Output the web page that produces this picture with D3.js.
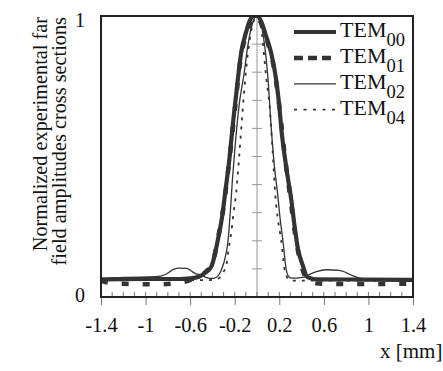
<!DOCTYPE html>
<html>
<head>
<meta charset="utf-8">
<script src="https://cdn.jsdelivr.net/npm/d3@7"></script>
<style>
  body { margin: 0; background: #fff; }
  svg text { font-family: "Liberation Serif", "Times New Roman", serif; fill: #111; }
</style>
</head>
<body>
<script>
// ********************** DATA **************************************************************
var tem00X = [-1.4, -1.0, -0.7, -0.6, -0.52, -0.47, -0.41, -0.353, -0.308, -0.29, -0.248, -0.21, -0.187, -0.142, -0.1, -0.068, -0.03, 0.0, 0.038, 0.08, 0.128, 0.173, 0.2, 0.218, 0.263, 0.308, 0.338, 0.368, 0.413, 0.443, 0.47, 0.533, 1.0, 1.4];
var tem00Y = [0.063, 0.064, 0.064, 0.066, 0.072, 0.085, 0.108, 0.2, 0.3, 0.357, 0.49, 0.64, 0.72, 0.87, 0.94, 0.98, 1.0, 1.0, 0.98, 0.93, 0.867, 0.77, 0.68, 0.6, 0.46, 0.345, 0.25, 0.17, 0.11, 0.075, 0.068, 0.063, 0.062, 0.061];

var tem01X = [-1.4, -1.35, -1.2, -0.9, -0.7, -0.6, -0.52, -0.46, -0.4, -0.35, -0.3, -0.25, -0.2, -0.15, -0.1, -0.05, 0.0, 0.04, 0.1, 0.15, 0.2, 0.25, 0.3, 0.34, 0.38, 0.42, 0.46, 0.55, 0.8, 1.1, 1.37];
var tem01Y = [0.058, 0.052, 0.047, 0.045, 0.05, 0.06, 0.072, 0.09, 0.12, 0.21, 0.32, 0.48, 0.66, 0.84, 0.93, 0.98, 1.0, 0.97, 0.9, 0.82, 0.68, 0.5, 0.35, 0.23, 0.14, 0.085, 0.06, 0.048, 0.046, 0.046, 0.048];

var tem02X = [-1.4, -1.2, -0.91, -0.82, -0.75, -0.7, -0.63, -0.56, -0.5, -0.445, -0.4, -0.38, -0.32, -0.28, -0.26, -0.24, -0.22, -0.2, -0.158, -0.118, -0.08, -0.05, -0.02, 0.0, 0.03, 0.06, 0.1, 0.128, 0.155, 0.187, 0.21, 0.232, 0.263, 0.29, 0.308, 0.41, 0.47, 0.533, 0.62, 0.74, 0.8, 0.863, 0.98, 1.4];
var tem02Y = [0.064, 0.07, 0.072, 0.08, 0.098, 0.103, 0.102, 0.085, 0.077, 0.068, 0.066, 0.067, 0.096, 0.15, 0.2, 0.3, 0.42, 0.52, 0.69, 0.79, 0.9, 0.96, 0.995, 1.0, 0.98, 0.92, 0.77, 0.6, 0.47, 0.36, 0.27, 0.203, 0.096, 0.07, 0.067, 0.07, 0.08, 0.09, 0.097, 0.095, 0.087, 0.075, 0.063, 0.063];

var tem04X = [-1.4, -0.6, -0.45, -0.38, -0.33, -0.3, -0.277, -0.255, -0.232, -0.21, -0.187, -0.16, -0.13, -0.1, -0.06, -0.02, 0.01, 0.04, 0.083, 0.113, 0.14, 0.165, 0.19, 0.218, 0.248, 0.27, 0.293, 0.308, 0.4, 1.4];
var tem04Y = [0.06, 0.06, 0.06, 0.062, 0.07, 0.09, 0.108, 0.17, 0.227, 0.3, 0.37, 0.5, 0.66, 0.8, 0.93, 0.99, 1.0, 0.95, 0.78, 0.68, 0.52, 0.36, 0.27, 0.2, 0.096, 0.07, 0.06, 0.058, 0.058, 0.058];

var seriesNames = ["00", "01", "02", "04"];
var xTickValues = [-1.4, -1, -0.6, -0.2, 0.2, 0.6, 1, 1.4];
var yTickLabels = ["0", "1"];

// ********************** LAYOUT **************************************************************
var width = 443;
var height = 371;
var plotLeft = 101, plotRight = 413, plotTop = 16, plotBottom = 297;

var svg = d3.select("body")
    .append("svg")
    .attr("width", width)
    .attr("height", height);

var x = d3.scaleLinear().domain([-1.4, 1.4]).range([plotLeft, plotRight]);
var y = d3.scaleLinear().domain([0, 1]).range([plotBottom, plotTop]);

// center vertical line (x = 0) with small y ticks
svg.append("line")
    .attr("x1", x(0)).attr("x2", x(0))
    .attr("y1", y(0)).attr("y2", y(1))
    .attr("stroke", "#999")
    .attr("stroke-width", 1);

svg.selectAll(".ytick")
    .data(d3.range(1, 10).map(function(d) { return d / 10; }))
    .enter().append("line")
    .attr("class", "ytick")
    .attr("x1", x(0) - 5).attr("x2", x(0) + 5)
    .attr("y1", function(d) { return y(d); })
    .attr("y2", function(d) { return y(d); })
    .attr("stroke", "#999")
    .attr("stroke-width", 1);

// minor x ticks, inside frame
svg.selectAll(".xminor")
    .data(d3.range(-13, 14).map(function(d) { return d / 10; }))
    .enter().append("line")
    .attr("class", "xminor")
    .attr("x1", function(d) { return x(d); })
    .attr("x2", function(d) { return x(d); })
    .attr("y1", plotBottom)
    .attr("y2", plotBottom - 5)
    .attr("stroke", "#777")
    .attr("stroke-width", 1);

// ********************** SERIES **************************************************************
svg.append("clipPath").attr("id", "plotclip")
    .append("rect")
    .attr("x", plotLeft).attr("y", plotTop)
    .attr("width", plotRight - plotLeft).attr("height", plotBottom - plotTop);

var line = d3.line()
    .x(function(d) { return x(d[0]); })
    .y(function(d) { return y(d[1]); })
    .curve(d3.curveMonotoneX);

function pairs(xs, ys) { return xs.map(function(v, i) { return [v, ys[i]]; }); }

var series = [
    { data: pairs(tem04X, tem04Y), width: 1.8, dash: "3,6" },
    { data: pairs(tem02X, tem02Y), width: 1.3, dash: null },
    { data: pairs(tem01X, tem01Y), width: 4.5, dash: "7,14" },
    { data: pairs(tem00X, tem00Y), width: 4.2, dash: null }
];

var plot = svg.append("g").attr("clip-path", "url(#plotclip)");
series.forEach(function(s) {
    plot.append("path")
        .attr("d", line(s.data))
        .attr("fill", "none")
        .attr("stroke", "#333")
        .attr("stroke-width", s.width)
        .attr("stroke-dasharray", s.dash)
        .attr("stroke-linejoin", "round");
});

// frame
svg.append("rect")
    .attr("x", plotLeft).attr("y", plotTop)
    .attr("width", plotRight - plotLeft).attr("height", plotBottom - plotTop)
    .attr("fill", "none")
    .attr("stroke", "#222")
    .attr("stroke-width", 2);

// ********************** AXES **************************************************************
var xAxis = d3.axisBottom(x)
    .tickValues(xTickValues)
    .tickSize(7)
    .tickPadding(10)
    .tickFormat(function(d) { return String(d); });

var gx = svg.append("g")
    .attr("transform", "translate(0," + (plotBottom + 1) + ")")
    .call(xAxis);
gx.select(".domain").remove();
gx.selectAll(".tick line").attr("stroke", "#777").attr("stroke-width", 1);
gx.selectAll(".tick text")
    .style("font-family", "Liberation Serif, serif")
    .style("font-size", "20.5px")
    .attr("fill", "#111")
    .attr("dy", "0.85em");

// y labels 0 and 1
svg.selectAll(".ylabel")
    .data(yTickLabels)
    .enter().append("text")
    .attr("class", "ylabel")
    .attr("x", 85)
    .attr("y", function(d) { return +d === 1 ? y(1) + 11 : y(0) + 5; })
    .attr("text-anchor", "end")
    .style("font-size", "20px")
    .text(function(d) { return d; });

// axis titles
svg.append("text")
    .attr("x", 380)
    .attr("y", 358)
    .style("font-size", "21px")
    .text("x [mm]");

var yTitle = svg.append("text")
    .attr("transform", "translate(47,17) rotate(-90)")
    .attr("text-anchor", "end")
    .style("font-size", "20.3px");
yTitle.append("tspan").attr("x", 0).attr("y", 0).text("Normalized experimental far");
yTitle.append("tspan").attr("x", 0).attr("y", 18.5).text("field amplitudes cross sections");

// ********************** LEGEND **************************************************************
var legendX = 294;
var legendY = 32;
var legendStep = 25.9;
var legendStyles = [
    { width: 4.2, dash: null },
    { width: 4.5, dash: "9,5" },
    { width: 1.3, dash: null },
    { width: 1.8, dash: "3,6.5" }
];

var legend = svg.append("g");
seriesNames.forEach(function(name, i) {
    var ly = legendY + i * legendStep;
    legend.append("line")
        .attr("x1", legendX).attr("x2", legendX + 42)
        .attr("y1", ly).attr("y2", ly)
        .attr("stroke", "#333")
        .attr("stroke-width", legendStyles[i].width)
        .attr("stroke-dasharray", legendStyles[i].dash);
    var t = legend.append("text")
        .attr("x", legendX + 46)
        .attr("y", ly + 5)
        .style("font-size", "22px");
    t.append("tspan").text("TEM");
    t.append("tspan")
        .attr("dy", 9)
        .style("font-size", "18.5px")
        .text(name);
});
</script>
</body>
</html>
